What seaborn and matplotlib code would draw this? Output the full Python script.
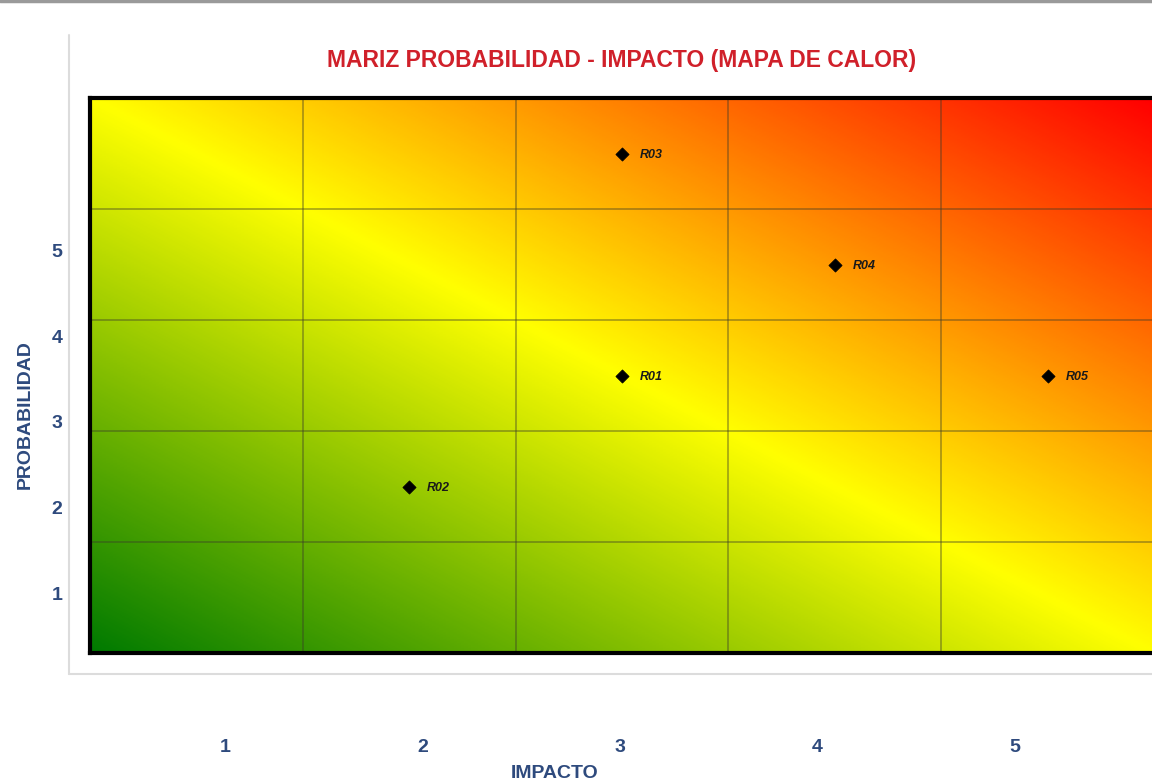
import numpy as np
import pandas as pd
import matplotlib
matplotlib.use('Agg')
import matplotlib.pyplot as plt
import seaborn as sns
from matplotlib.colors import LinearSegmentedColormap

# riesgos: impacto (columna) y probabilidad (fila)
riesgos = ['R01', 'R02', 'R03', 'R04', 'R05']
impacto = [3, 2, 3, 4, 5]
probabilidad = [3, 2, 5, 4, 3]
niveles = ['1', '2', '3', '4', '5']

df = pd.DataFrame({'riesgo': riesgos, 'impacto': impacto, 'probabilidad': probabilidad})

sns.set_style('white')
plt.rcParams['font.family'] = ['Liberation Sans Narrow', 'Liberation Sans', 'DejaVu Sans']

azul = '#2e4a7d'
fig = plt.figure(figsize=(11.52, 7.84), dpi=100)
W, H = 1152, 784

# marco gris claro del grafico
fig.add_artist(plt.Line2D([69 / W, 69 / W], [1 - 35 / H, 1 - 674 / H], color='#dcdcdc', lw=1.5))
fig.add_artist(plt.Line2D([69 / W, 1.0], [1 - 674 / H, 1 - 674 / H], color='#dcdcdc', lw=1.5))
fig.add_artist(plt.Line2D([0, 1], [1 - 1 / H, 1 - 1 / H], color='#9a9a9a', lw=2.5))

ax = fig.add_axes([90 / W, 1 - 653 / H, 1064 / W, 555 / H])

# fondo degradado (mapa de calor)
cmap = LinearSegmentedColormap.from_list('calor', ['#007a00', '#ffff00', '#ff0000'])
u, v = np.meshgrid(np.linspace(0, 1, 300), np.linspace(0, 1, 300))
ax.imshow((u + v) / 2, cmap=cmap, origin='lower', extent=[0.5, 5.5, 0.5, 5.5],
          aspect='auto', interpolation='bilinear', zorder=0)

for k in np.arange(1.5, 5.5, 1):
    ax.axvline(k, color='#3a3a2a', lw=1.2, alpha=0.45, zorder=1)
    ax.axhline(k, color='#3a3a2a', lw=1.2, alpha=0.45, zorder=1)

sns.scatterplot(data=df, x='impacto', y='probabilidad', marker='D', s=45,
                color='black', edgecolor='black', ax=ax, zorder=3, legend=False)
for _, r in df.iterrows():
    ax.annotate(r['riesgo'], (r['impacto'], r['probabilidad']), xytext=(13, -1),
                textcoords='offset points', va='center', fontsize=9,
                fontweight='bold', fontstyle='italic', color='#1a1a1a', zorder=4)

ax.set_xlim(0.5, 5.5)
ax.set_ylim(0.5, 5.5)
ax.set_xticks([])
ax.set_yticks([])
ax.set_xlabel('')
ax.set_ylabel('')
for s in ax.spines.values():
    s.set_color('black')
    s.set_linewidth(3)

# escalas de etiquetas (desplazadas como en la captura)
axx = fig.add_axes([126 / W, 1 - 739 / H, 988 / W, 0.001])
axx.set_xlim(0.5, 5.5)
axx.set_xticks(range(1, 6))
axx.set_xticklabels(niveles, fontsize=14, fontweight='bold', color=azul)
axx.set_yticks([])
axx.tick_params(length=0, pad=0)
sns.despine(ax=axx, left=True, bottom=True)
axx.patch.set_alpha(0)

axy = fig.add_axes([68 / W, 1 - 636 / H, 0.001, 428 / H])
axy.set_ylim(0.5, 5.5)
axy.set_yticks(range(1, 6))
axy.set_yticklabels(niveles, fontsize=14, fontweight='bold', color=azul)
axy.set_xticks([])
axy.tick_params(length=0, pad=4)
sns.despine(ax=axy, left=True, bottom=True)
axy.patch.set_alpha(0)

fig.text(622 / W, 1 - 60 / H, 'MARIZ PROBABILIDAD - IMPACTO (MAPA DE CALOR)',
         ha='center', va='center', fontsize=16.5, fontweight='bold', color='#d0202a')
fig.text(555 / W, 1 - 773 / H, 'IMPACTO', ha='center', va='center',
         fontsize=14, fontweight='bold', color=azul)
fig.text(25 / W, 1 - 415 / H, 'PROBABILIDAD', ha='center', va='center', rotation=90,
         fontsize=14, fontweight='bold', color=azul)

fig.savefig('out.png', dpi=100)
